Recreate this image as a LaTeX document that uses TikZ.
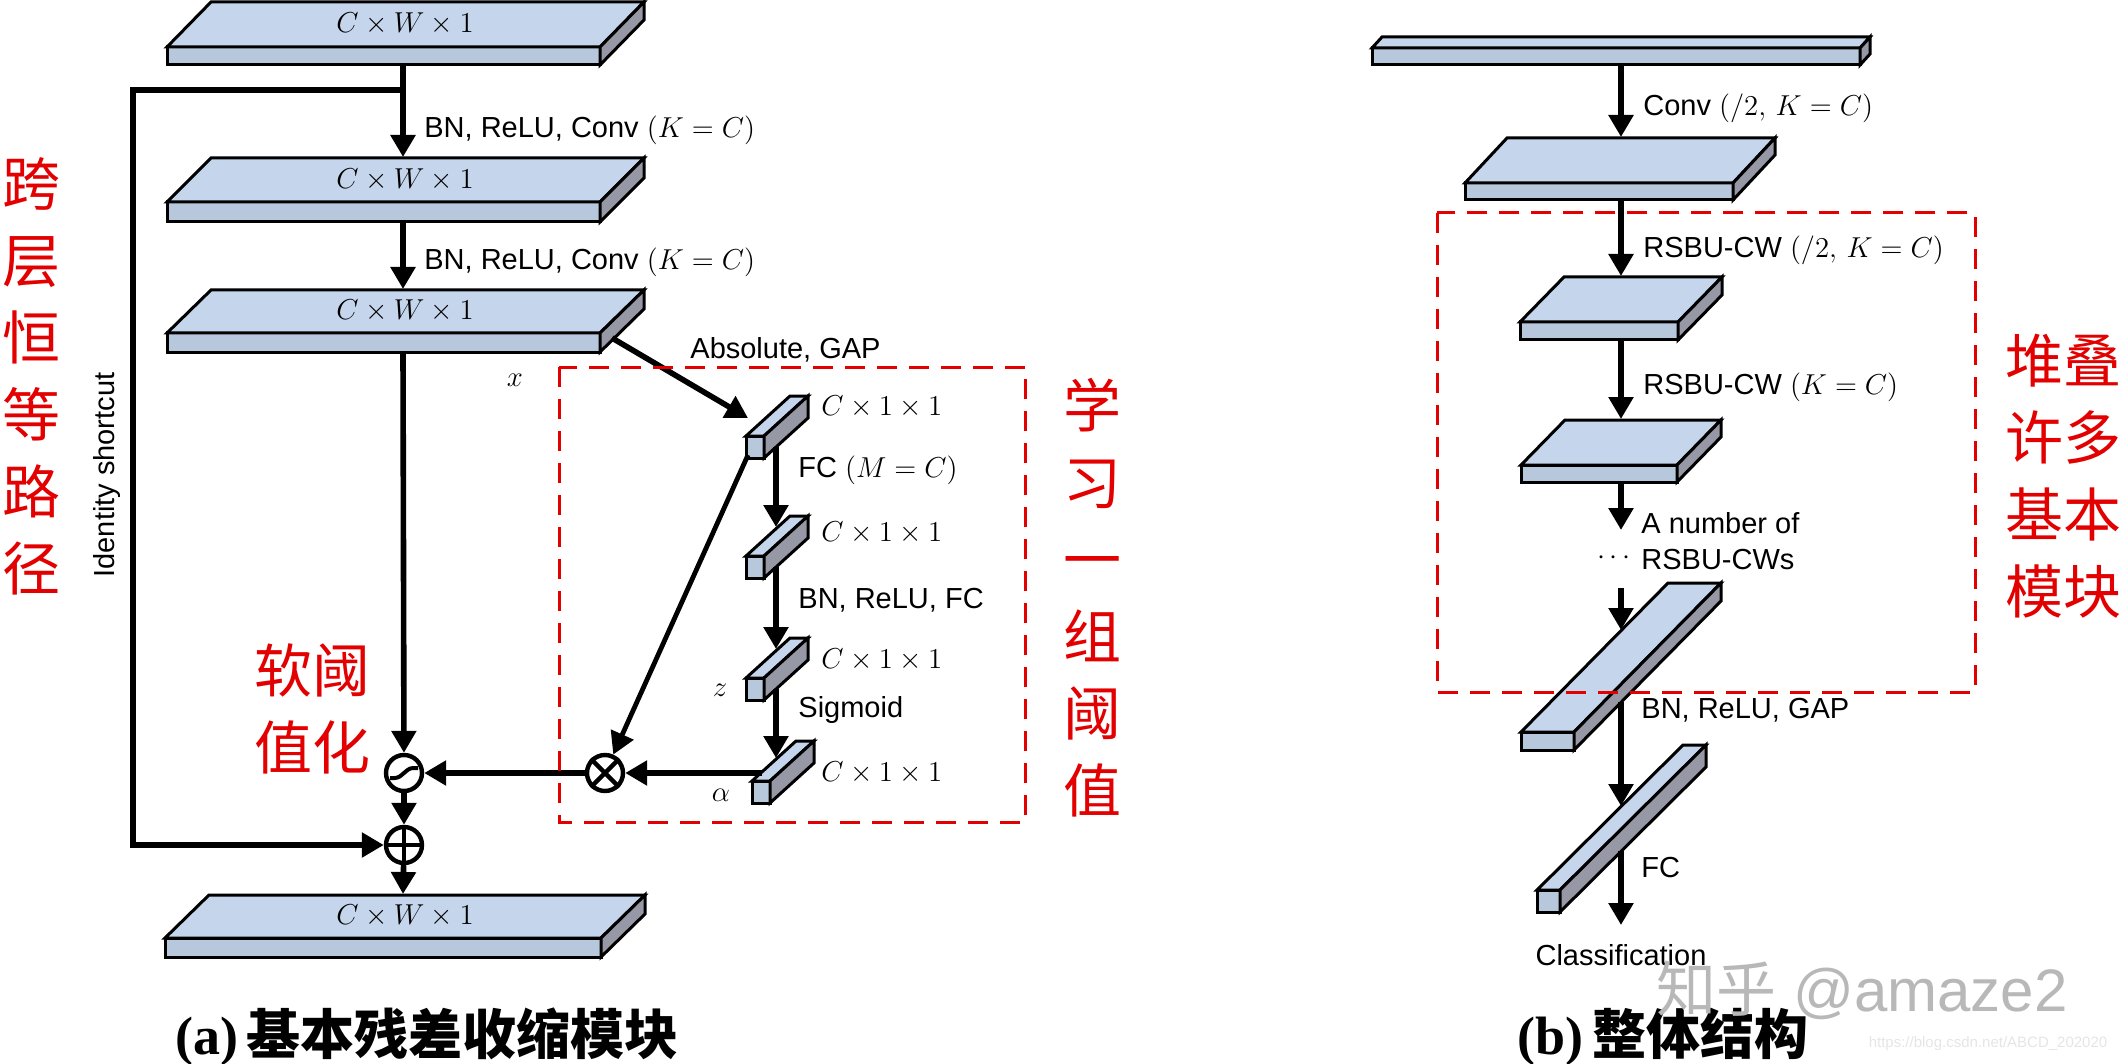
\documentclass[tikz,border=0pt]{standalone}
\usepackage{fontspec}
\setmainfont{Liberation Sans}
\newfontfamily\cjk{Noto Sans CJK SC}
\newfontfamily\timesf{Liberation Serif}
\usetikzlibrary{arrows.meta}
\definecolor{topc}{RGB}{197,214,236}
\definecolor{frontc}{RGB}{184,200,220}
\definecolor{sidec}{RGB}{150,153,165}
\definecolor{redc}{RGB}{226,0,0}
% #1 x, #2 y (front top-left, px), #3 w, #4 h, #5 dx, #6 dy (up), #7 name
\newcommand{\prismbox}[7]{%
  \coordinate (#7) at (#1,#2);
  \filldraw[prismline, fill=frontc] (#1,#2) rectangle (#1+#3,#2+#4);
  \filldraw[prismline, fill=topc] (#1,#2) -- (#1+#5,#2-#6) -- (#1+#3+#5,#2-#6) -- (#1+#3,#2) -- cycle;
  \filldraw[prismline, fill=sidec] (#1+#3,#2) -- (#1+#3+#5,#2-#6) -- (#1+#3+#5,#2-#6+#4) -- (#1+#3,#2+#4) -- cycle;
}
\begin{document}
\begin{tikzpicture}[x=0.5pt,y=-0.5pt,
  prismline/.style={draw=black, line width=1.5pt, line join=miter},
  arr/.style={line width=2.8pt, -{Triangle[length=11pt,width=12pt]}},
  lbl/.style={anchor=west, inner sep=0pt, font=\fontsize{14.5}{17}\selectfont},
  dimtxt/.style={inner sep=0pt, font=\fontsize{15}{18}\selectfont},
  circ/.style={circle, draw, line width=2.2pt, minimum size=18pt, inner sep=0pt, fill=white},
  dashred/.style={draw=redc, line width=1.5pt, dash pattern=on 10pt off 6pt},
  redcol/.style={text=redc, align=center, inner sep=0pt, font=\cjk\fontsize{29}{38.5}\selectfont},
  capt/.style={inner sep=0pt, font=\fontsize{27}{30}\selectfont}]
\useasboundingbox (0,0) rectangle (2126,1064);

% ---------------- left panel: slabs ----------------
\prismbox{167}{47}{433}{18}{44}{45}{L1}
\prismbox{167}{202}{433}{20}{44}{44}{L2}
\prismbox{167}{333}{433}{19}{44}{43}{L3}
\prismbox{165}{938}{436}{19}{44}{43}{L4}
\node[dimtxt] (t1) at (405,24) {$C\times W\times 1$};
\node[dimtxt] (t2) at (405,180) {$C\times W\times 1$};
\node[dimtxt] (t3) at (405,311) {$C\times W\times 1$};
\node[dimtxt] (t4) at (405,916) {$C\times W\times 1$};

% small prisms
\prismbox{746}{436}{18}{22}{44}{40}{B1}
\prismbox{746}{556}{18}{22}{44}{40}{B2}
\prismbox{746}{678}{18}{22}{44}{40}{B3}
\prismbox{752}{781}{18}{22}{44}{40}{B4}

% operators
\node[circ] (sg) at (404,773) {};
\node[circ] (mul) at (605,773) {};
\node[circ] (add) at (404,845) {};
\draw[line width=2pt, rounded corners=1.5pt] ([shift={(-14,5)}]sg.center) -- ++(8,0) -- ++(12,-10) -- ++(8,0);
\draw[line width=2.2pt] (mul.north west) -- (mul.south east) (mul.north east) -- (mul.south west);
\draw[line width=2.2pt] (add.north) -- (add.south) (add.west) -- (add.east);

% coordinates for connectors
\coordinate (l1b) at (403,65);
\coordinate (j1) at (403,90);
\coordinate (l2t) at (403,157);
\coordinate (l2b) at (403,222);
\coordinate (l3t) at (403,289);
\coordinate (l3b) at (403,352);
\coordinate (l4t) at (403,894);
\coordinate (sc1) at (133,90);
\coordinate (sc2) at (133,845);
\coordinate (l3s) at (612,338);
\coordinate (b1t) at (748,418);
\coordinate (b1d) at (748,455);
\coordinate (b1o) at (776,447);
\coordinate (b2i) at (776,527);
\coordinate (b2o) at (776,567);
\coordinate (b3i) at (776,649);
\coordinate (b3o) at (776,689);
\coordinate (b4i) at (776,758);
\coordinate (b4l) at (762,773);

\draw[arr] (l1b) -- (l2t);
\draw[arr] (l2b) -- (l3t);
\draw[arr] (l3b) -- (sg);
\draw[arr] (sg) -- (add);
\draw[arr] (add) -- (l4t);
\draw[arr, line join=miter] (j1) -- (sc1) -- (sc2) -- (add);
\draw[arr] (l3s) -- (b1t);
\draw[arr] (b1o) -- (b2i);
\draw[arr] (b2o) -- (b3i);
\draw[arr] (b3o) -- (b4i);
\draw[arr, line width=2.4pt] (b1d) -- (mul);
\draw[arr] (b4l) -- (mul);
\draw[arr] (mul) -- (sg);

% labels left
\node[lbl] (c1) at (424,130) {BN, ReLU, Conv $(K=C)$};
\node[lbl] (c2) at (424,262) {BN, ReLU, Conv $(K=C)$};
\node[lbl] (abs) at (690,350) {Absolute, GAP};
\node[dimtxt] (xl) at (515,380) {$x$};
\node[lbl, font=\fontsize{15}{18}\selectfont] (d1) at (821,407) {$C\times 1\times 1$};
\node[lbl, font=\fontsize{15}{18}\selectfont] (d2) at (821,533) {$C\times 1\times 1$};
\node[lbl, font=\fontsize{15}{18}\selectfont] (d3) at (821,660) {$C\times 1\times 1$};
\node[lbl, font=\fontsize{15}{18}\selectfont] (d4) at (821,773) {$C\times 1\times 1$};
\node[lbl] (fc1) at (798,470) {FC $(M=C)$};
\node[lbl] (bnf) at (798,600) {BN, ReLU, FC};
\node[lbl] (sgm) at (798,710) {Sigmoid};
\node[dimtxt] (zl) at (720,690) {$z$};
\node[dimtxt] (al) at (721,795) {$\alpha$};
\node[lbl, anchor=center, rotate=90] (ids) at (107,475) {Identity shortcut};

\draw[dashred] (559,367) rectangle (1025,822);

\node[redcol] (k1) at (32,376) {跨\\层\\恒\\等\\路\\径};
\node[redcol] (k2) at (312,709) {软阈\\值化};
\node[redcol] (k3) at (1092,598) {学\\习\\一\\组\\阈\\值};

\node[capt] (capa) at (427,1037) {\timesf\bfseries (a)\,\cjk\bfseries 基本残差收缩模块};

% ---------------- right panel ----------------
\prismbox{1372}{48}{488}{17}{10}{11}{R0}
\prismbox{1465}{183}{268}{17}{42}{45}{R1}
\prismbox{1520}{322}{158}{18}{44}{45}{R2}
\prismbox{1521}{465}{156}{17}{44}{45}{R3}
\prismbox{1521}{732}{53}{18}{147}{149}{R4}
\prismbox{1537}{890}{23}{22}{146}{145}{R5}

\coordinate (r0b) at (1621,65);
\coordinate (r1t) at (1621,137);
\coordinate (r1b) at (1621,200);
\coordinate (r2t) at (1621,276);
\coordinate (r2b) at (1621,340);
\coordinate (r3t) at (1621,419);
\coordinate (r3b) at (1621,482);
\coordinate (r3x) at (1621,530);
\coordinate (r4x) at (1621,588);
\coordinate (r4t) at (1621,630);
\coordinate (r4b) at (1621,702);
\coordinate (r5t) at (1621,806);
\coordinate (r5b) at (1621,851);
\coordinate (clsin) at (1621,925);

\draw[arr] (r0b) -- (r1t);
\draw[arr] (r1b) -- (r2t);
\draw[arr] (r2b) -- (r3t);
\draw[arr] (r3b) -- (r3x);
\draw[arr] (r4x) -- (r4t);
\draw[arr] (r4b) -- (r5t);
\draw[arr] (r5b) -- (clsin);

\node[lbl] (rc1) at (1643,108) {Conv $(/2,\,K=C)$};
\node[lbl] (rc2) at (1643,250) {RSBU-CW $(/2,\,K=C)$};
\node[lbl] (rc3) at (1643,387) {RSBU-CW $(K=C)$};
\node[lbl] (rc4) at (1641,523) {A number of};
\node[lbl] (rc5) at (1641,560) {RSBU-CWs};
\node[dimtxt] (dots) at (1614,558) {$\cdots$};
\node[lbl] (rc6) at (1641,710) {BN, ReLU, GAP};
\node[lbl] (rc7) at (1641,868) {FC};
\node[lbl, anchor=center] (cls) at (1621,955) {Classification};

\draw[dashred] (1437,213) rectangle (1975,692);

\node[redcol] (k4) at (2063,476) {堆叠\\许多\\基本\\模块};

\node[capt] (capb) at (1663,1037) {\timesf\bfseries (b)\,\cjk\bfseries 整体结构};

% watermarks
\node[inner sep=0pt, text=black!28, font=\fontsize{30}{30}\selectfont] (wm) at (1862,990) {{\cjk 知乎} @amaze2};
\node[inner sep=0pt, text=black!10, font=\fontsize{7.5}{8}\selectfont] (url) at (1988,1044) {https://blog.csdn.net/ABCD\_202020};
\end{tikzpicture}
\end{document}
